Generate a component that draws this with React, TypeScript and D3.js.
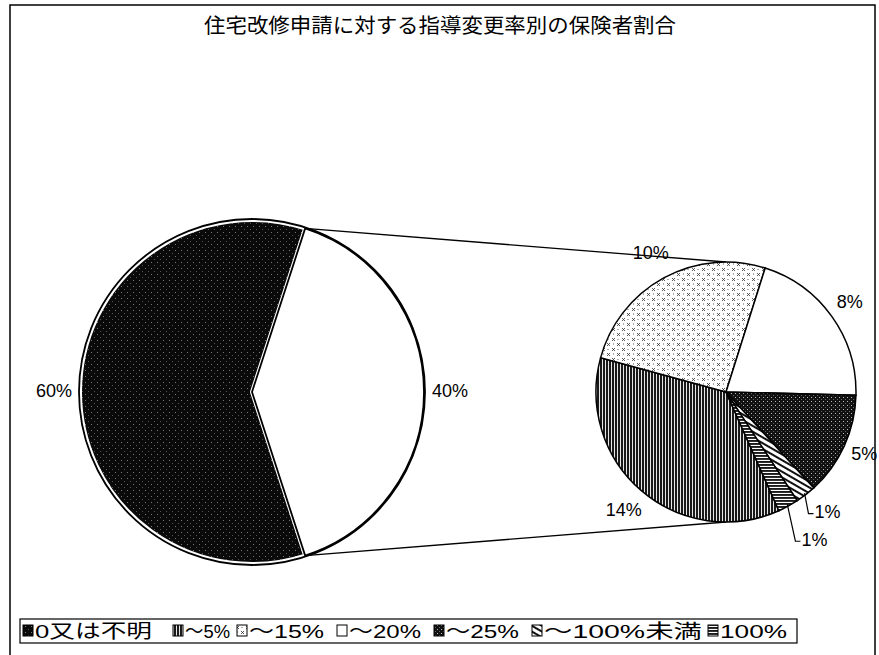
import * as d3 from 'd3';

// chart data
const chartTitle = '住宅改修申請に対する指導変更率別の保険者割合';
const mainCategories = ['0又は不明', 'その他'];
const mainValues = [60, 40];
const subCategories = ['～5%', '～15%', '～20%', '～25%', '～100%未満', '100%'];
const subValues = [14, 10, 8, 5, 1, 1];
const legendLabels = ['0又は不明', '～5%', '～15%', '～20%', '～25%', '～100%未満', '100%'];

// pattern id per category
const fills: Record<string, string> = {
  '0又は不明': 'url(#stipple)',
  'その他': '#fff',
  '～5%': 'url(#vstripe)',
  '～15%': 'url(#cross)',
  '～20%': '#fff',
  '～25%': 'url(#dark)',
  '～100%未満': 'url(#bars)',
  '100%': 'url(#hstripe)',
};

const W = 879;
const H = 655;
const FONT = '"Liberation Sans", "Noto Sans CJK JP", sans-serif';
const JP = '"Noto Sans CJK JP", sans-serif';

const main = { cx: 252, cy: 392, r: 172 };
const sub = { cx: 726, cy: 392, r: 130 };

const deg = (a: number) => (a * Math.PI) / 180;
const polar = (c: { cx: number; cy: number }, a: number, r: number): [number, number] => [
  c.cx + r * Math.sin(a),
  c.cy - r * Math.cos(a),
];

// legend layout (icon x, text end x)
const legendIconX = [23, 173, 237, 337, 434, 532, 708];
const legendTextEnd = [152, 230, 324, 421, 519, 702, 787];

export default function App() {
  const otherShare = mainValues[1] / d3.sum(mainValues);
  const a0 = Math.PI / 2 + otherShare * Math.PI;
  const mainArcs = d3.pie<number>().sort(null).startAngle(a0).endAngle(a0 + 2 * Math.PI)(mainValues);
  const mainArc = d3.arc<d3.PieArcDatum<number>>().innerRadius(0).outerRadius(main.r);
  const mainLabelArc = d3.arc<d3.PieArcDatum<number>>().innerRadius(main.r + 26).outerRadius(main.r + 26);

  const s0 = deg(156);
  const subArcs = d3.pie<number>().sort(null).startAngle(s0).endAngle(s0 + 2 * Math.PI)(subValues);
  const subArc = d3.arc<d3.PieArcDatum<number>>().innerRadius(0).outerRadius(sub.r);

  // connector endpoints: edges of the "other" slice -> top/bottom of secondary pie
  const other = mainArcs[1];
  const p1 = polar(main, other.startAngle, main.r);
  const p2 = polar(main, other.endAngle, main.r);
  const q1 = polar(sub, 0, sub.r);
  const q2 = polar(sub, Math.PI, sub.r);

  const fmt = (v: number) => `${v}%`;

  return (
    <svg width={W} height={H} style={{ position: 'absolute', left: 0, top: 0, background: '#fff' }}>
      <defs>
        <pattern id="stipple" width="6" height="6" patternUnits="userSpaceOnUse">
          <rect width="6" height="6" fill="#0a0a0a" />
          <rect x="1" y="2" width="1" height="1" fill="#777" />
          <rect x="4" y="5" width="1" height="1" fill="#555" />
        </pattern>
        <pattern id="dark" width="4" height="4" patternUnits="userSpaceOnUse">
          <rect width="4" height="4" fill="#111" />
          <rect x="1" y="1" width="1" height="1" fill="#bbb" />
          <rect x="3" y="3" width="1" height="1" fill="#666" />
        </pattern>
        <pattern id="vstripe" width="3" height="3" patternUnits="userSpaceOnUse">
          <rect width="3" height="3" fill="#fff" />
          <rect width="2.1" height="3" fill="#1a1a1a" />
        </pattern>
        <pattern id="hstripe" width="3" height="3" patternUnits="userSpaceOnUse">
          <rect width="3" height="3" fill="#fff" />
          <rect width="3" height="1.9" fill="#1a1a1a" />
        </pattern>
        <pattern id="bars" width="5" height="5" patternUnits="userSpaceOnUse" patternTransform="rotate(30)">
          <rect width="5" height="5" fill="#fff" />
          <rect width="5" height="2" fill="#111" />
        </pattern>
        <pattern id="cross" width="10" height="10" patternUnits="userSpaceOnUse">
          <rect width="10" height="10" fill="#fff" />
          <path d="M1,1 L4,4 M4,1 L1,4 M6,6 L9,9 M9,6 L6,9 M7,2 L8,2 M2,7 L2,8" stroke="#333" strokeWidth="0.8" />
        </pattern>
      </defs>

      {/* chart frame */}
      <rect x={10} y={5} width={865} height={660} fill="none" stroke="#000" strokeWidth={1.5} />

      <text x={440} y={33} textAnchor="middle" fontFamily={JP} fontSize={20} textLength={472} lengthAdjust="spacingAndGlyphs">
        {chartTitle}
      </text>

      {/* connector lines */}
      <line x1={p1[0]} y1={p1[1]} x2={q1[0]} y2={q1[1]} stroke="#000" strokeWidth={1.3} />
      <line x1={p2[0]} y1={p2[1]} x2={q2[0]} y2={q2[1]} stroke="#000" strokeWidth={1.3} />

      {/* main pie */}
      <g transform={`translate(${main.cx},${main.cy})`}>
        <path d={mainArc(mainArcs[0]) || ''} fill={fills[mainCategories[0]]} stroke="#fff" strokeWidth={4} />
        <circle r={main.r + 1} fill="none" stroke="#000" strokeWidth={1.8} />
        <path d={mainArc(mainArcs[1]) || ''} fill={fills[mainCategories[1]]} stroke="#000" strokeWidth={1.8} />
        {mainArcs.map((d, i) => {
          const [x, y] = mainLabelArc.centroid(d);
          return (
            <text key={i} x={x} y={y} textAnchor="middle" dominantBaseline="middle" fontFamily={FONT} fontSize={18}>
              {fmt(mainValues[i])}
            </text>
          );
        })}
      </g>

      {/* secondary pie */}
      <g transform={`translate(${sub.cx},${sub.cy})`}>
        {subArcs.map((d, i) => (
          <path key={i} d={subArc(d) || ''} fill={fills[subCategories[i]]} stroke="#000" strokeWidth={1.5} />
        ))}
        {subArcs.map((d, i) => {
          const mid = (d.startAngle + d.endAngle) / 2;
          const small = subValues[i] <= 1;
          if (!small) {
            const off = subValues[i] >= 10 ? 27 : 22;
            const [x, y] = polar({ cx: 0, cy: 0 }, mid, sub.r + off);
            return (
              <text key={i} x={x} y={y} textAnchor="middle" dominantBaseline="middle" fontFamily={FONT} fontSize={18}>
                {fmt(subValues[i])}
              </text>
            );
          }
          const k = subCategories[i] === '100%' ? 40 : 24;
          const [ex, ey] = polar({ cx: 0, cy: 0 }, mid, sub.r - 2);
          const [lx, ly] = polar({ cx: 0, cy: 0 }, mid, sub.r + k);
          const tx = lx - 6;
          return (
            <g key={i}>
              <polyline points={`${ex},${ey} ${tx - 6},${ly} ${tx - 1},${ly}`} fill="none" stroke="#000" strokeWidth={1.2} />
              <text x={tx} y={ly} dominantBaseline="middle" fontFamily={FONT} fontSize={18}>
                {fmt(subValues[i])}
              </text>
            </g>
          );
        })}
      </g>

      {/* legend */}
      <rect x={20} y={619} width={777} height={24} fill="#fff" stroke="#000" strokeWidth={1.2} />
      {legendLabels.map((lab, i) => (
        <g key={lab}>
          <rect x={legendIconX[i]} y={625} width={10} height={11} fill={fills[lab]} stroke="#000" strokeWidth={1} />
          <text
            x={legendIconX[i] + 12}
            y={638}
            fontFamily={FONT}
            fontSize={19}
            textLength={legendTextEnd[i] - legendIconX[i] - 12}
            lengthAdjust="spacingAndGlyphs"
          >
            {lab}
          </text>
        </g>
      ))}
    </svg>
  );
}
